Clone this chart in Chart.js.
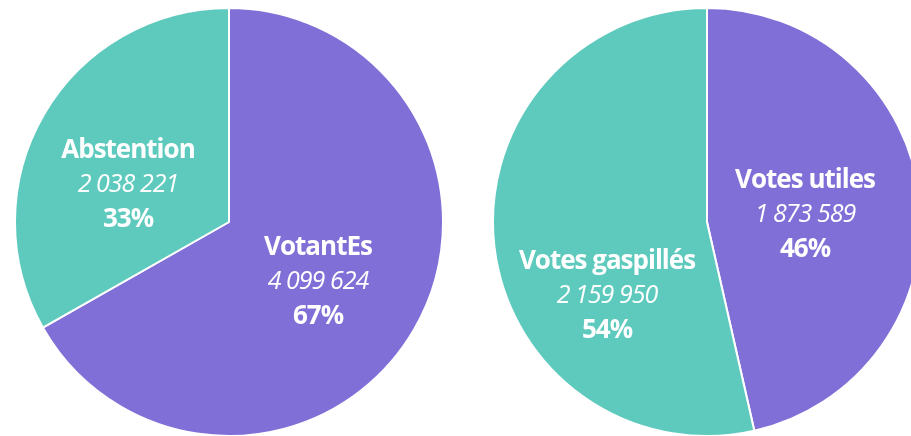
<!DOCTYPE html>
<html lang="fr">
<head>
  <meta charset="UTF-8" />
  <title>Participation et votes</title>
  <script src="https://cdn.jsdelivr.net/npm/chart.js"></script>
  <style>
    html, body {
      margin: 0;
      width: 911px;
      height: 436px;
      overflow: hidden;
      background: #fff;
    }
    .pie-box {
      position: absolute;
      width: 430px;
      height: 430px;
    }
    #leftBox { left: 14px; top: 7px; }
    #rightBox { left: 492px; top: 7px; }
  </style>
</head>
<body>
  <div class="pie-box" id="leftBox"><canvas id="turnoutChart"></canvas></div>
  <div class="pie-box" id="rightBox"><canvas id="usefulChart"></canvas></div>

  <script>
    // participation
    const turnoutLabels = ['VotantEs', 'Abstention'];
    const turnoutCounts = [4099624, 2038221];
    const turnoutPct = ['67%', '33%'];

    // votes utiles / gaspillés
    const usefulLabels = ['Votes utiles', 'Votes gaspillés'];
    const usefulCounts = [1873589, 2159950];
    const usefulPct = ['46%', '54%'];

    const PURPLE = '#7f6fd6';
    const TEAL = '#5ecabd';

    // where each label block sits, relative to the pie centre (px)
    const labelSpots = {
      turnoutChart: [[89, 60], [-101, -37]],
      usefulChart: [[98, -7], [-100, 74]]
    };

    const fmt = n => String(n).replace(/\B(?=(\d{3})+(?!\d))/g, ' ');

    const sliceText = {
      id: 'sliceText',
      afterDatasetsDraw(chart) {
        const ctx = chart.ctx;
        const meta = chart.getDatasetMeta(0);
        const spots = labelSpots[chart.canvas.id];
        const pct = chart.options.plugins.sliceText.pct;
        ctx.save();
        ctx.fillStyle = '#fff';
        ctx.textAlign = 'center';
        ctx.textBaseline = 'middle';
        meta.data.forEach((arc, i) => {
          const x = arc.x + spots[i][0];
          const y = arc.y + spots[i][1];
          ctx.font = 'bold 26px "Open Sans", sans-serif';
          ctx.letterSpacing = '-1px';
          ctx.fillText(chart.data.labels[i], x, y - 34);
          ctx.font = 'italic 25px "Open Sans", sans-serif';
          ctx.letterSpacing = '-1px';
          ctx.fillText(fmt(chart.data.datasets[0].data[i]), x, y);
          ctx.font = 'bold 26px "Open Sans", sans-serif';
          ctx.fillText(pct[i], x, y + 35);
        });
        ctx.restore();
      }
    };

    function makePie(id, labels, counts, pct) {
      new Chart(document.getElementById(id), {
        type: 'pie',
        data: {
          labels: labels,
          datasets: [{
            data: counts,
            backgroundColor: [PURPLE, TEAL],
            borderColor: '#fff',
            borderWidth: 2
          }]
        },
        options: {
          responsive: true,
          maintainAspectRatio: false,
          animation: false,
          layout: { padding: 0 },
          plugins: {
            legend: { display: false },
            tooltip: { enabled: false },
            sliceText: { pct: pct }
          }
        },
        plugins: [sliceText]
      });
    }

    makePie('turnoutChart', turnoutLabels, turnoutCounts, turnoutPct);
    makePie('usefulChart', usefulLabels, usefulCounts, usefulPct);
  </script>
</body>
</html>
